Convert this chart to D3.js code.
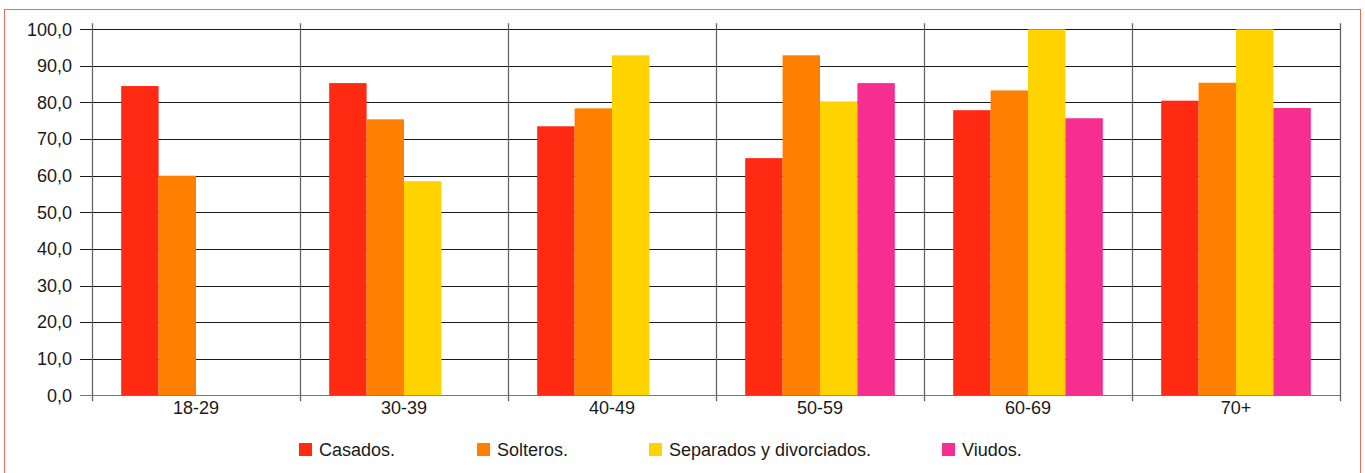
<!DOCTYPE html>
<html>
<head>
<meta charset="utf-8">
<script src="https://cdn.jsdelivr.net/npm/d3@7"></script>
<style>
  html, body { margin: 0; padding: 0; background: #fff; }
  svg { display: block; }
  text { font-family: "Liberation Sans", Arial, Helvetica, sans-serif; fill: #1a1a1a; }
</style>
</head>
<body>
<svg id="chart" width="1365" height="473"></svg>
<script>
const categories = ["18-29", "30-39", "40-49", "50-59", "60-69", "70+"];
const seriesNames = ["Casados.", "Solteros.", "Separados y divorciados.", "Viudos."];
const casados    = [84.5, 85.3, 73.5, 64.8, 77.9, 80.5];
const solteros   = [60.0, 75.4, 78.4, 92.9, 83.3, 85.4];
const separados  = [null, 58.5, 92.9, 80.3, 100.0, 100.0];
const viudos     = [null, null, null, 85.3, 75.7, 78.5];
const seriesValues = [casados, solteros, separados, viudos];
const seriesColors = ["#ff2a12", "#ff7f00", "#ffd300", "#f52e8f"];
const yTicks = [0, 10, 20, 30, 40, 50, 60, 70, 80, 90, 100];
const yTickLabels = yTicks.map(v => v.toFixed(1).replace(".", ","));

const svg = d3.select("#chart");
const L = 92, R = 1340, T = 29.3, B = 395.3;

// outer frame
svg.append("rect")
  .attr("x", 4.5).attr("y", 9.5).attr("width", 1356).attr("height", 480)
  .attr("fill", "none").attr("stroke", "#f06a5a").attr("stroke-width", 1);

const x = d3.scaleBand().domain(categories).range([L, R]).padding(0);
const xs = d3.scaleBand().domain(seriesNames).range([0, x.bandwidth()])
  .paddingInner(0).paddingOuter(0.78);
const y = d3.scaleLinear().domain([0, 100]).range([B, T]);

// horizontal grid lines (with left tick extension)
svg.append("g").selectAll("line").data(yTicks).join("line")
  .attr("x1", L - 12).attr("x2", R)
  .attr("y1", d => Math.round(y(d)) + 0.5).attr("y2", d => Math.round(y(d)) + 0.5)
  .attr("stroke", d => d === 0 ? "#777" : "#1a1a1a").attr("stroke-width", 1.2);

// vertical category separators
const bounds = categories.map(c => x(c)).concat([R]);
svg.append("g").selectAll("line").data(bounds).join("line")
  .attr("x1", d => Math.round(d) + 0.5).attr("x2", d => Math.round(d) + 0.5)
  .attr("y1", T - 6).attr("y2", B + 6)
  .attr("stroke", "#666").attr("stroke-width", 1.3);

// y tick labels
svg.append("g").selectAll("text").data(yTicks).join("text")
  .attr("x", 72).attr("y", d => y(d))
  .attr("dy", "0.35em")
  .attr("text-anchor", "end")
  .style("font-size", "18px")
  .text((d, i) => yTickLabels[i]);

// bars
const barData = [];
seriesValues.forEach((vals, si) => {
  vals.forEach((v, ci) => {
    if (v !== null) barData.push({ cat: categories[ci], s: seriesNames[si], v, color: seriesColors[si] });
  });
});
svg.append("g").selectAll("rect").data(barData).join("rect")
  .attr("x", d => x(d.cat) + xs(d.s))
  .attr("width", xs.bandwidth())
  .attr("y", d => y(d.v))
  .attr("height", d => y(0) - y(d.v))
  .attr("fill", d => d.color);

// x labels
svg.append("g").selectAll("text").data(categories).join("text")
  .attr("x", d => x(d) + x.bandwidth() / 2)
  .attr("y", 413.5)
  .attr("text-anchor", "middle")
  .style("font-size", "18px")
  .text(d => d);

// legend
const legendX = [299, 477, 649, 942];
const lg = svg.append("g").selectAll("g").data(seriesNames).join("g")
  .attr("transform", (d, i) => `translate(${legendX[i]},443)`);
lg.append("rect").attr("width", 13).attr("height", 13)
  .attr("fill", (d, i) => seriesColors[i]);
lg.append("text").attr("x", 20).attr("y", 13)
  .style("font-size", "18px")
  .text(d => d);
</script>
</body>
</html>
